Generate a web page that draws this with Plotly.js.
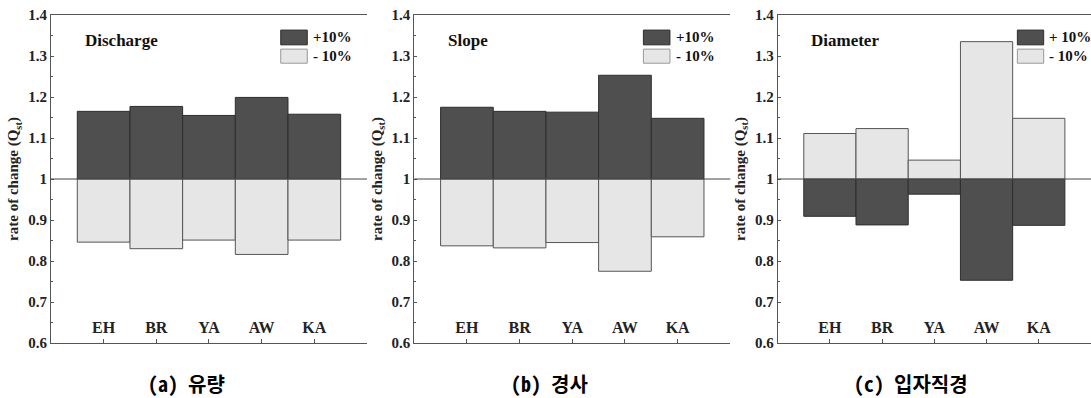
<!DOCTYPE html>
<html>
<head>
<meta charset="utf-8">
<script src="https://cdn.plot.ly/plotly-3.0.1.min.js"></script>
<style>html,body{margin:0;padding:0;background:#fff;overflow:hidden}#chart{width:1091px;height:398px}</style>
</head>
<body>
<div id="chart"></div>
<script>
// ---- data ----
const categories = ['EH', 'BR', 'YA', 'AW', 'KA'];
const dischargePlus  = [1.165, 1.177, 1.155, 1.199, 1.158];
const dischargeMinus = [0.846, 0.830, 0.851, 0.816, 0.851];
const slopePlus      = [1.175, 1.165, 1.163, 1.253, 1.148];
const slopeMinus     = [0.837, 0.832, 0.845, 0.775, 0.859];
const diameterPlus   = [0.909, 0.888, 0.963, 0.753, 0.887];
const diameterMinus  = [1.111, 1.123, 1.046, 1.335, 1.148];
const baseline = 1;
const yTickVals = [0.6, 0.7, 0.8, 0.9, 1.0, 1.1, 1.2, 1.3, 1.4];
const yTickText = ['0.6', '0.7', '0.8', '0.9', '1', '1.1', '1.2', '1.3', '1.4'];
const panelTitles = ['Discharge', 'Slope', 'Diameter'];
const captions = ['(a) 유량', '(b) 경사', '(c) 입자직경'];
const legendPlus = ['+10%', '+10%', '+ 10%'];
const legendMinus = ['- 10%', '- 10%', '- 10%'];
const yTitle = 'rate of change (Q<sub>st</sub>)';

// ---- styles ----
const darkFill = '#4f4f4f', darkLine = '#2e2e2e';
const lightFill = '#e6e6e6', lightLine = '#555555';
const axisColor = '#555555';
const serif = 'Liberation Serif, Times New Roman, serif';
const domains = [[0.0467, 0.3364], [0.3797, 0.6694], [0.7128, 1.0]];
const captionX = [0.1714, 0.5041, 0.835];
const legendX0 = [0.727, 0.725, 0.765];
const panels = [
  [dischargePlus, dischargeMinus],
  [slopePlus, slopeMinus],
  [diameterPlus, diameterMinus]
];

const minorVals = [];
for (let i = 0; i < yTickVals.length - 1; i++) minorVals.push((yTickVals[i] + yTickVals[i + 1]) / 2);

const traces = [];
const layout = {
  width: 1091, height: 398,
  margin: {l: 0, r: 0, t: 15, b: 55},
  paper_bgcolor: '#fff', plot_bgcolor: '#fff',
  showlegend: false,
  barmode: 'overlay',
  shapes: [], annotations: []
};

panels.forEach((p, i) => {
  const n = i + 1;
  const xa = 'x' + (n === 1 ? '' : n), ya = 'y' + (n === 1 ? '' : n);
  const xKey = 'xaxis' + (n === 1 ? '' : n), yKey = 'yaxis' + (n === 1 ? '' : n);
  const rKey = 'yaxis' + (n + 3);
  const names = ['+10%', '-10%'];
  [[p[0], darkFill, darkLine], [p[1], lightFill, lightLine]].forEach((s, k) => {
    traces.push({
      type: 'bar', x: categories, y: s[0].map(v => v - baseline), base: baseline,
      width: 1, xaxis: xa, yaxis: ya, name: names[k],
      marker: {color: s[1], line: {color: s[2], width: 1}},
      hoverinfo: 'x+name'
    });
  });
  layout[xKey] = {
    domain: domains[i], anchor: ya, type: 'category', range: [-1, 5],
    showline: true, mirror: true, linecolor: axisColor, linewidth: 1,
    ticks: 'inside', ticklen: 4, tickcolor: axisColor,
    ticklabelposition: 'outside', ticklabelstandoff: -30,
    tickfont: {family: serif, size: 16, color: '#222', weight: 'bold'},
    showgrid: false, zeroline: false, fixedrange: true
  };
  layout[yKey] = {
    domain: [0, 1], anchor: xa, range: [0.6, 1.4],
    tickmode: 'array', tickvals: yTickVals, ticktext: yTickText,
    showline: true, linecolor: axisColor, linewidth: 1,
    ticks: 'inside', ticklen: 3, tickcolor: axisColor,
    minor: {tickmode: 'array', tickvals: minorVals, ticks: 'inside', ticklen: 2, tickcolor: axisColor},
    tickfont: {family: serif, size: 15, color: '#222', weight: 'bold'},
    title: {text: yTitle, font: {family: serif, size: 15, color: '#222', weight: 'bold'}, standoff: 5},
    showgrid: false, zeroline: false, fixedrange: true
  };
  layout[rKey] = {
    overlaying: ya, anchor: xa, side: 'right', range: [0.6, 1.4],
    tickmode: 'array', tickvals: yTickVals, showticklabels: false,
    showline: false, ticks: 'inside', ticklen: 3, tickcolor: '#777',
    minor: {tickmode: 'array', tickvals: minorVals, ticks: 'inside', ticklen: 1, tickcolor: '#999'},
    showgrid: false, zeroline: false, fixedrange: true
  };
  // baseline reference line
  layout.shapes.push({type: 'line', xref: xa + ' domain', yref: ya, x0: 0, x1: 1, y0: baseline, y1: baseline,
    line: {color: '#444', width: 1}, layer: 'above'});
  // legend swatches
  const lx0 = legendX0[i], lx1 = legendX0[i] + 0.084;
  layout.shapes.push({type: 'rect', xref: xa + ' domain', yref: ya + ' domain', x0: lx0, x1: lx1, y0: 0.909, y1: 0.954,
    fillcolor: darkFill, line: {color: darkLine, width: 1}});
  layout.shapes.push({type: 'rect', xref: xa + ' domain', yref: ya + ' domain', x0: lx0, x1: lx1, y0: 0.853, y1: 0.896,
    fillcolor: lightFill, line: {color: '#999', width: 1}});
  layout.annotations.push({xref: xa + ' domain', yref: ya + ' domain', x: lx1 + 0.012, y: 0.932, xanchor: 'left', yanchor: 'middle',
    text: legendPlus[i], showarrow: false, font: {family: serif, size: 15, color: '#111', weight: 'bold'}});
  layout.annotations.push({xref: xa + ' domain', yref: ya + ' domain', x: lx1 + 0.012, y: 0.875, xanchor: 'left', yanchor: 'middle',
    text: legendMinus[i], showarrow: false, font: {family: serif, size: 15, color: '#111', weight: 'bold'}});
  // panel title
  layout.annotations.push({xref: xa + ' domain', yref: ya + ' domain', x: 0.1, y: 0.921, xanchor: 'left', yanchor: 'middle',
    text: panelTitles[i], showarrow: false, font: {family: serif, size: 17, color: '#111', weight: 'bold'}});
  // caption
  layout.annotations.push({xref: 'paper', yref: 'paper', x: captionX[i], y: -0.122, xanchor: 'center', yanchor: 'middle',
    text: captions[i], showarrow: false,
    font: {family: 'Noto Sans Mono CJK KR, Noto Sans CJK KR, DejaVu Sans Mono, sans-serif', size: 20, color: '#000', weight: 'bold'}});
});

Plotly.newPlot('chart', traces, layout, {displayModeBar: false, staticPlot: true});
</script>
</body>
</html>
